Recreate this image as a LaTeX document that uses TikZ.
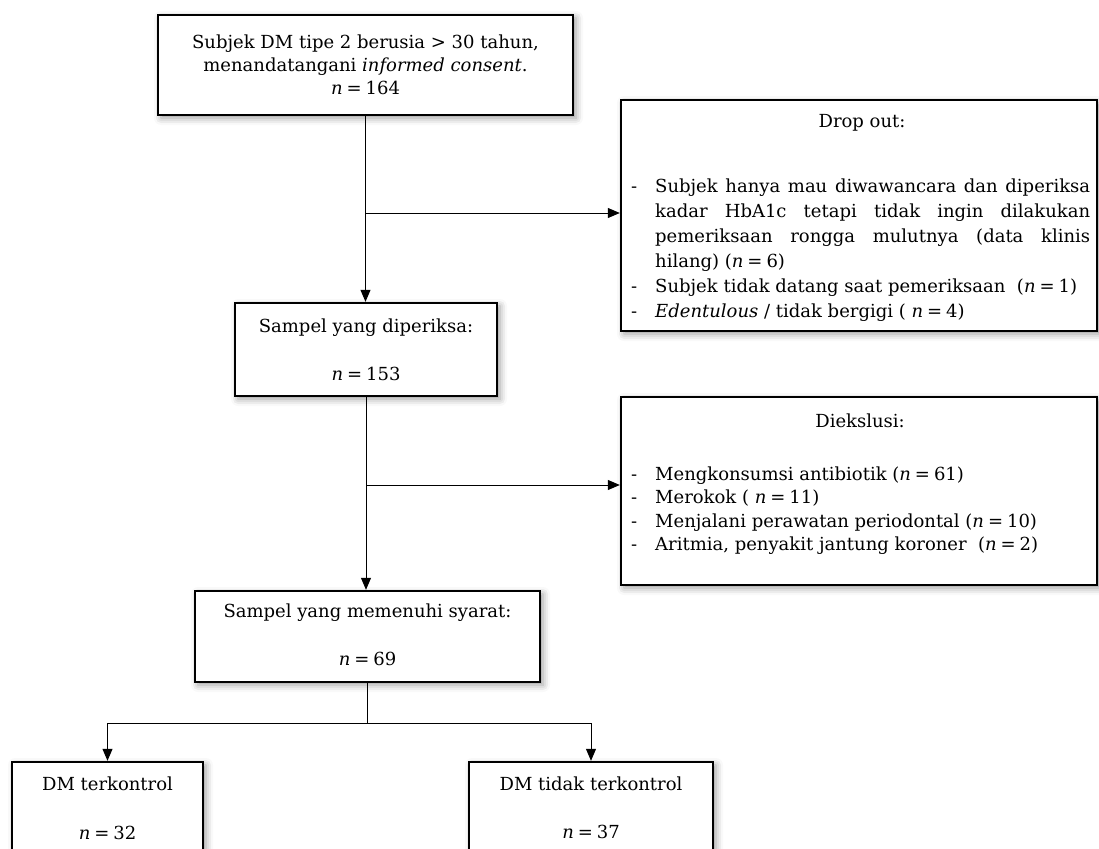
\documentclass[tikz,border=0pt]{standalone}
\usepackage{fontspec}
\setmainfont{DejaVu Serif}
\usetikzlibrary{arrows.meta, shadows.blur}

\newcommand{\dashitem}[1]{\par\noindent\hangindent=24pt\hangafter=1\makebox[24pt][l]{-}#1}
\newcommand{\nval}[1]{\textit{n}\hspace{0.22em}=\hspace{0.22em}#1}

\tikzset{
  flowbox/.style 2 args={draw, line width=2.4pt, fill=white, minimum width=#1pt, minimum height=#2pt, inner sep=0pt,
    blur shadow={shadow xshift=3pt, shadow yshift=-3pt, shadow blur radius=7pt, shadow opacity=40}},
  boxtext/.style={inner sep=0pt, anchor=mid, font=\fontsize{18pt}{23pt}\selectfont},
  listtext/.style={inner sep=0pt, anchor=north west, align=justify, font=\fontsize{18pt}{#1}\selectfont},
  flowline/.style={line width=1pt},
  flowarrow/.style={line width=1pt, -{Triangle[length=12pt, width=10pt]}},
}

\begin{document}
\begin{tikzpicture}[x=1pt, y=-1pt]
  \useasboundingbox (0,0) rectangle (1099,848);

  % boxes
  \node[flowbox={415}{100}, align=center, font=\fontsize{18pt}{23pt}\selectfont] (subj) at (365.5,65)
    {Subjek DM tipe 2 berusia > 30 tahun,\\ menandatangani \textit{informed consent}.\\ \nval{164}};
  \node[flowbox={476}{231}] (drop) at (859,215.5) {};
  \node[flowbox={262}{93}] (check) at (366,349.5) {};
  \node[flowbox={476}{188}] (excl) at (859,491) {};
  \node[flowbox={345}{91}] (elig) at (367.5,636.5) {};
  \node[flowbox={191}{130}] (ctrl) at (107.5,827) {};
  \node[flowbox={244}{130}] (unctrl) at (591,827) {};

  % texts
  \node[boxtext] (drop-title) at (862,125) {Drop out:};
  \node[listtext=25pt, text width=459pt] (drop-list) at (631,167) {%
    \tolerance=9999\emergencystretch=2em
    \dashitem{Subjek hanya mau diwawancara dan diperiksa\linebreak kadar HbA1c tetapi tidak ingin dilakukan\linebreak pemeriksaan rongga mulutnya (data klinis\linebreak hilang) (\nval{6})}
    \dashitem{Subjek tidak datang saat pemeriksaan~ (\nval{1})}
    \dashitem{\textit{Edentulous} / tidak bergigi ( \nval{4})}};
  \node[boxtext] (check-title) at (366,330) {Sampel yang diperiksa:};
  \node[boxtext] (check-n) at (366,378) {\nval{153}};
  \node[boxtext] (excl-title) at (860,425) {Diekslusi:};
  \node[listtext=23.3pt, text width=459pt] (excl-list) at (631,457) {%
    \dashitem{Mengkonsumsi antibiotik (\nval{61})}
    \dashitem{Merokok ( \nval{11})}
    \dashitem{Menjalani perawatan periodontal (\nval{10})}
    \dashitem{Aritmia, penyakit jantung koroner~ (\nval{2})}};
  \node[boxtext] (elig-title) at (367.5,615) {Sampel yang memenuhi syarat:};
  \node[boxtext] (elig-n) at (367.5,663) {\nval{69}};
  \node[boxtext] (ctrl-title) at (107.5,788) {DM terkontrol};
  \node[boxtext] (ctrl-n) at (107.5,837) {\nval{32}};
  \node[boxtext] (unctrl-title) at (591,788) {DM tidak terkontrol};
  \node[boxtext] (unctrl-n) at (591,836) {\nval{37}};

  % connectors
  \coordinate (split-drop) at (366,213);
  \coordinate (split-excl) at (367,485);
  \coordinate (split-grp) at (367.5,723);
  \draw[flowarrow] (subj.south) -- (subj.south |- check.north);
  \draw[flowarrow] (split-drop) -- (split-drop -| drop.west);
  \draw[flowarrow] (check.south) -- (check.south |- elig.north);
  \draw[flowarrow] (split-excl) -- (split-excl -| excl.west);
  \draw[flowline] (elig.south) -- (split-grp);
  \draw[flowarrow] (split-grp) -| (ctrl.north);
  \draw[flowarrow] (split-grp) -| (unctrl.north);
\end{tikzpicture}
\end{document}
